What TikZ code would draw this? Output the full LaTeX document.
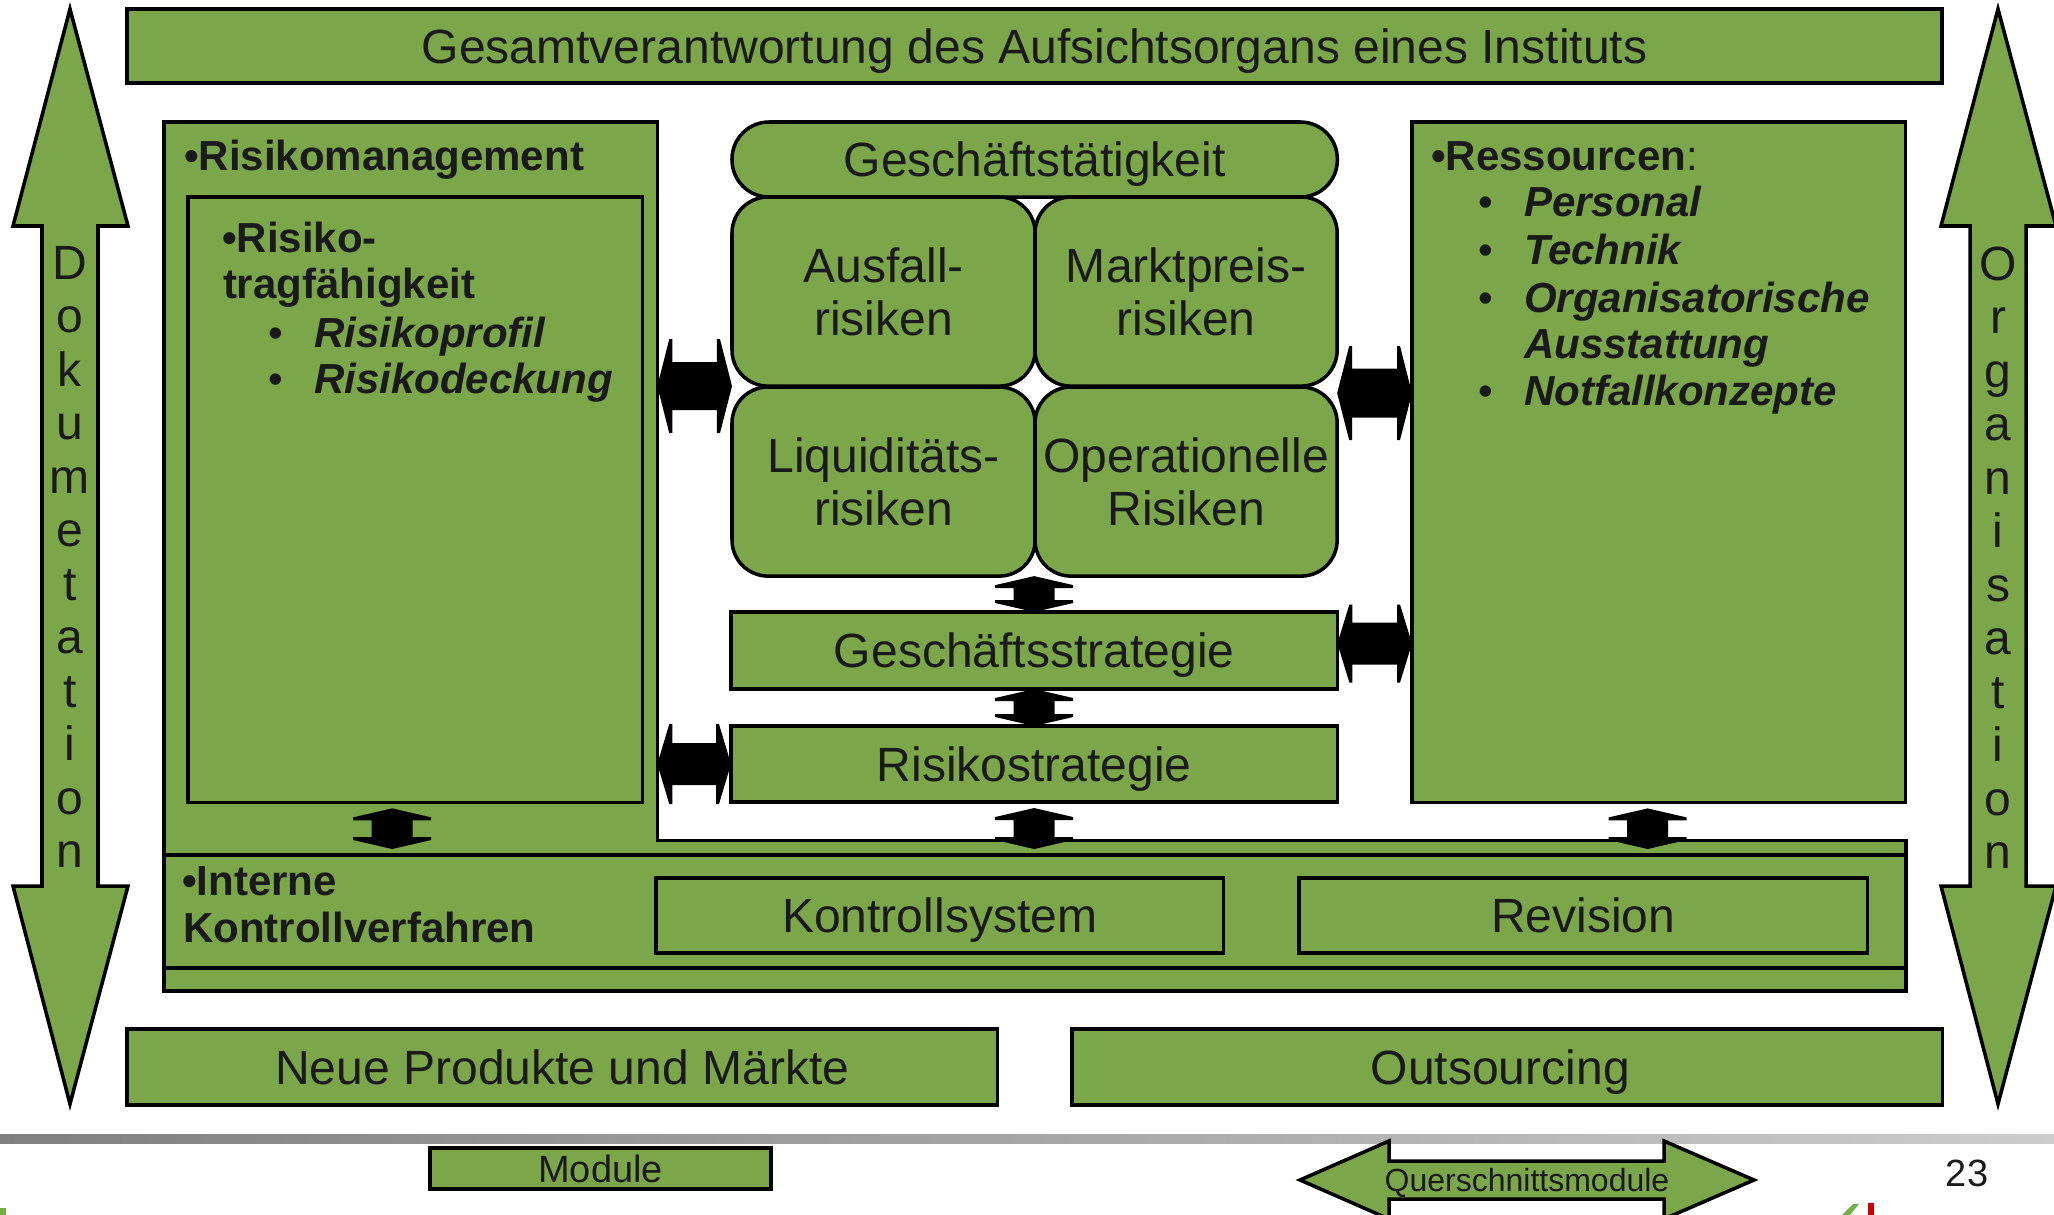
\documentclass[tikz,border=0pt]{standalone}
\usepackage{fontspec}
\setmainfont{Liberation Sans}
\usetikzlibrary{calc}

\definecolor{panel}{RGB}{124,166,74}
\definecolor{ink}{RGB}{26,26,26}

% font sizes (1 unit of the picture = 0.01cm)
\newcommand\regfont{\fontsize{13.66}{15.1}\selectfont}
\newcommand\headfont{\fontsize{11.95}{13}\selectfont\bfseries}
\newcommand\itemfont{\fontsize{11.95}{13}\selectfont\bfseries\itshape}
\newcommand\smallfont{\fontsize{10.8}{12}\selectfont}
\newcommand\tinyfont{\fontsize{9.1}{10}\selectfont}

% thick black double arrow, vertical: #1 upper tip, #2 lower tip
\newcommand\vfat[2]{%
  \fill[black] let \p1=#1, \p2=#2 in
    (\x1,\y1) -- ({\x1+0.39cm},{\y1-0.09cm}) -- ({\x1+0.39cm},{\y1-0.12cm})
    -- ({\x1+0.205cm},{\y1-0.12cm}) -- ({\x1+0.205cm},{\y2+0.12cm})
    -- ({\x1+0.39cm},{\y2+0.12cm}) -- ({\x1+0.39cm},{\y2+0.09cm}) -- (\x1,\y2)
    -- ({\x1-0.39cm},{\y2+0.09cm}) -- ({\x1-0.39cm},{\y2+0.12cm})
    -- ({\x1-0.205cm},{\y2+0.12cm}) -- ({\x1-0.205cm},{\y1-0.12cm})
    -- ({\x1-0.39cm},{\y1-0.12cm}) -- ({\x1-0.39cm},{\y1-0.09cm}) -- cycle;}

% thick black double arrow, horizontal: #1 left tip, #2 right tip,
% #3 half height of the heads, #4 half height of the shaft
\newcommand\hfat[4]{%
  \fill[black] let \p1=#1, \p2=#2 in
    (\x1,\y1) -- ({\x1+0.12cm},{\y1+#3}) -- ({\x1+0.15cm},{\y1+#3})
    -- ({\x1+0.15cm},{\y1+#4}) -- ({\x2-0.15cm},{\y1+#4})
    -- ({\x2-0.15cm},{\y1+#3}) -- ({\x2-0.12cm},{\y1+#3}) -- (\x2,\y1)
    -- ({\x2-0.12cm},{\y1-#3}) -- ({\x2-0.15cm},{\y1-#3})
    -- ({\x2-0.15cm},{\y1-#4}) -- ({\x1+0.15cm},{\y1-#4})
    -- ({\x1+0.15cm},{\y1-#3}) -- ({\x1+0.12cm},{\y1-#3}) -- cycle;}

\tikzset{
  box/.style={draw=black, fill=panel, line width=1pt, inner sep=0pt, outer sep=0pt,
              anchor=north west, text=ink, align=center, font=\regfont, text depth=0pt},
  roundbox/.style={box, rounded corners=0.36cm},
  flat/.style={fill=panel, draw=none, inner sep=0pt, outer sep=0pt, anchor=north west},
  lbl/.style={anchor=base west, inner sep=0pt, outer sep=0pt, text=ink},
  letter/.style={anchor=base, inner sep=0pt, text=ink, font=\regfont},
  bigarrow/.style={fill=panel, draw=black, line width=1pt, line join=miter},
}

\begin{document}
\begin{tikzpicture}[x=0.01cm, y=-0.01cm]
\useasboundingbox (0,0) rectangle (2054,1215);

% side arrows
\draw[bigarrow] (70,9) -- (128,226) -- (98,226) -- (98,886) -- (128,886) -- (70,1104)
  -- (13,886) -- (42,886) -- (42,226) -- (13,226) -- cycle;
\draw[bigarrow] (1998,9) -- (2056,226) -- (2026,226) -- (2026,886) -- (2056,886) -- (1998,1104)
  -- (1941,886) -- (1970,886) -- (1970,226) -- (1941,226) -- cycle;
\foreach \ch [count=\i from 0] in {D,o,k,u,m,e,t,a,t,i,o,n}
  \node[letter] (doc\i) at (70,{279+53.5*\i}) {\ch};
\foreach \ch [count=\i from 0] in {O,r,g,a,n,i,s,a,t,i,o,n}
  \node[letter] (org\i) at (1998,{280+53.5*\i}) {\ch};

% top banner
\node[box, minimum width=18.14cm, minimum height=0.74cm] (top) at (127,9)
  {Gesamtverantwortung des Aufsichtsorgans eines Instituts};

% risk management panel joined to the control band
\node[flat, minimum width=17.41cm, minimum height=1.51cm] (band) at (164,840) {};
\node[flat, minimum width=4.93cm, minimum height=7.18cm] (rm) at (164,122) {};
\draw[line width=1pt] (rm.south east) |- (rm.north west) |- (band.south east) |- cycle;
\node[box, minimum width=17.41cm, minimum height=1.13cm] (ikv) at (164,855) {};

\node[lbl, font=\headfont] (rmtext) at (184,170) {•Risikomanagement};
\node[box, minimum width=4.54cm, minimum height=6.05cm] (rtf) at (188,197) {};
\node[lbl, font=\headfont] (rtf1) at (222,252) {•Risiko-};
\node[lbl, font=\headfont] (rtf2) at (223,298) {tragfähigkeit};
\node[lbl, font=\headfont\mdseries\upshape] (rtfb1) at (268,347) {•};
\node[lbl, font=\itemfont] (rtf3) at (314,347) {Risikoprofil};
\node[lbl, font=\headfont\mdseries\upshape] (rtfb2) at (268,393) {•};
\node[lbl, font=\itemfont] (rtf4) at (314,393) {Risikodeckung};

% business activity and risk types
\node[box, rounded corners=0.37cm, minimum width=6.05cm, minimum height=0.75cm] (gt) at (732,122)
  {Geschäftstätigkeit};
\node[roundbox, minimum width=3.03cm, minimum height=1.89cm] (ausf) at (732,197) {Ausfall-\\risiken};
\node[roundbox, minimum width=3.02cm, minimum height=1.89cm] (mp) at (1035,197) {Marktpreis-\\risiken};
\node[roundbox, minimum width=3.03cm, minimum height=1.89cm] (liq) at (732,387) {Liquiditäts-\\risiken};
\node[roundbox, minimum width=3.02cm, minimum height=1.89cm] (op) at (1035,387) {Operationelle\\Risiken};

% strategies
\node[box, minimum width=6.06cm, minimum height=0.77cm] (gs) at (731,612) {Geschäftsstrategie};
\node[box, minimum width=6.06cm, minimum height=0.76cm] (rs) at (731,726) {Risikostrategie};

% resources
\node[box, minimum width=4.93cm, minimum height=6.80cm] (res) at (1412,122) {};
\node[lbl, font=\headfont] (restext) at (1431,170) {•Ressourcen\mdseries:};
\node[lbl, font=\headfont\mdseries] (resb1) at (1478,216) {•};
\node[lbl, font=\itemfont] (res1) at (1524,216) {Personal};
\node[lbl, font=\headfont\mdseries] (resb2) at (1478,264) {•};
\node[lbl, font=\itemfont] (res2) at (1524,264) {Technik};
\node[lbl, font=\headfont\mdseries] (resb3) at (1478,312) {•};
\node[lbl, font=\itemfont] (res3) at (1524,312) {Organisatorische};
\node[lbl, font=\itemfont] (res4) at (1524,358) {Ausstattung};
\node[lbl, font=\headfont\mdseries] (resb5) at (1478,405) {•};
\node[lbl, font=\itemfont] (res5) at (1524,405) {Notfallkonzepte};

% internal control procedures
\node[lbl, font=\headfont] (ikv1) at (182,895) {•Interne};
\node[lbl, font=\headfont] (ikv2) at (183,942) {Kontrollverfahren};
\node[box, minimum width=5.67cm, minimum height=0.75cm] (ks) at (656,878) {Kontrollsystem};
\node[box, minimum width=5.68cm, minimum height=0.75cm] (rev) at (1299,878) {Revision};

% cross-sectional modules
\node[box, minimum width=8.70cm, minimum height=0.76cm] (np) at (127,1029) {Neue Produkte und Märkte};
\node[box, minimum width=8.70cm, minimum height=0.76cm] (os) at (1072,1029) {\hspace*{-0.14cm}Outsourcing};

% interactions
\hfat{(rm.east |- ausf.south west)}{(ausf.south west)}{0.47cm}{0.24cm}
\hfat{($(mp.south east)+(0,7)$)}{(res.west |- {$(mp.south east)+(0,7)$})}{0.47cm}{0.245cm}
\hfat{($(gs.east)+(0,-7)$)}{(res.west |- {$(gs.east)+(0,-7)$})}{0.39cm}{0.21cm}
\hfat{(rm.east |- rs.west)}{(rs.west)}{0.40cm}{0.21cm}
\vfat{(gs.north |- liq.south)}{(gs.north)}
\vfat{(gs.south)}{(rs.north)}
\vfat{($(rs.south)+(0,6)$)}{($(rs.south |- ikv.north)+(0,-6)$)}
\vfat{($(rtf.south)+(-23,6)$)}{($(rtf.south |- ikv.north)+(-23,-6)$)}
\vfat{($(res.south)+(-11,6)$)}{($(res.south |- ikv.north)+(-11,-6)$)}

% footer
\shade[left color={rgb,255:red,128;green,128;blue,128}, right color={rgb,255:red,204;green,204;blue,204}]
  (0,1134) rectangle (2054,1143);
\node[box, font=\smallfont, minimum width=3.41cm, minimum height=0.41cm] (mod) at (430,1148) {Module};
\draw[bigarrow] (1300,1180) -- (1389,1141) -- (1389,1161) -- (1664,1161) -- (1664,1141)
  -- (1754,1180) -- (1664,1219) -- (1664,1199) -- (1389,1199) -- (1389,1219) -- cycle;
\node[anchor=base, inner sep=0pt, text=ink, font=\tinyfont] (qm) at (1527,1191) {Querschnittsmodule};
\node[anchor=base, inner sep=0pt, text=ink, font=\smallfont] (page) at (1967,1186) {23};

% logo fragments at the lower edge
\fill[panel!90!green] (0,1208) rectangle (6,1215);
\fill[panel!90!green] (1842,1215) -- (1853,1204) -- (1859,1204) -- (1850,1215) -- cycle;
\fill[red!80!black] (1868,1203) rectangle (1874,1215);
\end{tikzpicture}
\end{document}
